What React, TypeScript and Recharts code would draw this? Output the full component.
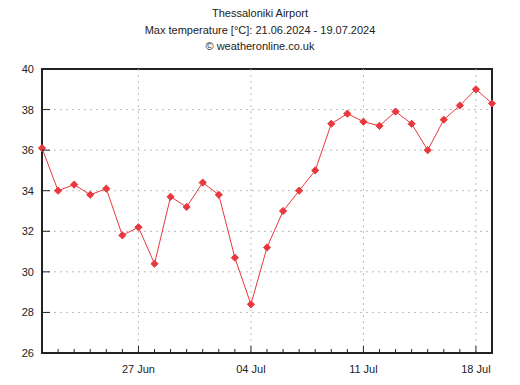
import React from "react";
import { LineChart, Line, XAxis, YAxis, ReferenceLine, ReferenceArea } from "recharts";

const days = [
  "21 Jun", "22 Jun", "23 Jun", "24 Jun", "25 Jun", "26 Jun", "27 Jun", "28 Jun", "29 Jun", "30 Jun",
  "01 Jul", "02 Jul", "03 Jul", "04 Jul", "05 Jul", "06 Jul", "07 Jul", "08 Jul", "09 Jul", "10 Jul",
  "11 Jul", "12 Jul", "13 Jul", "14 Jul", "15 Jul", "16 Jul", "17 Jul", "18 Jul", "19 Jul",
];
const maxTemp = [
  36.1, 34.0, 34.3, 33.8, 34.1, 31.8, 32.2, 30.4, 33.7, 33.2,
  34.4, 33.8, 30.7, 28.4, 31.2, 33.0, 34.0, 35.0, 37.3, 37.8,
  37.4, 37.2, 37.9, 37.3, 36.0, 37.5, 38.2, 39.0, 38.3,
];
const majorLabels = ["27 Jun", "04 Jul", "11 Jul", "18 Jul"];
const yTicks = [26, 28, 30, 32, 34, 36, 38, 40];
const yGrid = [28, 30, 32, 34, 36, 38];
const titleLines = [
  "Thessaloniki Airport",
  "Max temperature [°C]: 21.06.2024 - 19.07.2024",
  "© weatheronline.co.uk",
];

const data = days.map((d, i) => ({ idx: i, day: d, temp: maxTemp[i] }));
const allTicks = days.map((_, i) => i);
const majorTicks = majorLabels.map((l) => days.indexOf(l));
const lastIdx = days.length - 1;
const yMin = yTicks[0];
const yMax = yTicks[yTicks.length - 1];

const FONT = "'Liberation Sans', Arial, sans-serif";
const AXIS = "#222";
const RED = "#e8383d";
const GRID = "#bbb";

const BottomTick = (props: any) => {
  const { x, y, payload } = props;
  const major = majorTicks.includes(payload.value);
  return (
    <g>
      <line x1={x} y1={y} x2={x} y2={y - (major ? 7 : 4)} stroke={AXIS} strokeWidth={1} />
      {major && (
        <text x={x} y={y + 20} textAnchor="middle" fontSize={11} fontFamily={FONT} fill="#222">
          {days[payload.value]}
        </text>
      )}
    </g>
  );
};

const TopTick = (props: any) => {
  const { x, y, payload } = props;
  const major = majorTicks.includes(payload.value);
  return <line x1={x} y1={y} x2={x} y2={y + (major ? 7 : 4)} stroke={AXIS} strokeWidth={1} />;
};

const LeftTick = (props: any) => {
  const { x, y, payload } = props;
  return (
    <g>
      <line x1={x} y1={y} x2={x + 8} y2={y} stroke={AXIS} strokeWidth={1} />
      <text x={x - 8} y={y + 4} textAnchor="end" fontSize={11} fontFamily={FONT} fill="#222">
        {payload.value}
      </text>
    </g>
  );
};

const RightTick = (props: any) => {
  const { x, y } = props;
  return <line x1={x} y1={y} x2={x - 8} y2={y} stroke={AXIS} strokeWidth={1} />;
};

const Diamond = (props: any) => {
  const { cx, cy } = props;
  if (cx == null || cy == null) return null;
  const r = 3.6;
  return (
    <path
      d={`M${cx},${cy - r} L${cx + r},${cy} L${cx},${cy + r} L${cx - r},${cy} Z`}
      fill={RED}
      stroke={RED}
      strokeWidth={1}
      strokeLinejoin="round"
    />
  );
};

export default function App() {
  return (
    <div style={{ position: "absolute", left: 0, top: 0, width: 520, height: 385, background: "#fff" }}>
      <div
        style={{
          position: "absolute",
          left: 0,
          top: 5,
          width: 520,
          textAlign: "center",
          fontFamily: FONT,
          fontSize: 11,
          color: "#222",
          lineHeight: "16.5px",
        }}
      >
        {titleLines.map((t) => (
          <div key={t}>{t}</div>
        ))}
      </div>
      <LineChart
        width={520}
        height={385}
        data={data}
        margin={{ top: 69, right: 0, bottom: 0, left: 0 }}
      >
        {yGrid.map((v) => (
          <ReferenceLine
            key={"h" + v}
            y={v}
            xAxisId="bottom"
            yAxisId="left"
            stroke={GRID}
            strokeDasharray="2 4"
          />
        ))}
        {majorTicks.map((t) => (
          <ReferenceLine
            key={"v" + t}
            x={t}
            xAxisId="bottom"
            yAxisId="left"
            stroke={GRID}
            strokeDasharray="2 4"
          />
        ))}
        <ReferenceArea
          x1={0}
          x2={lastIdx}
          y1={yMin}
          y2={yMax}
          xAxisId="bottom"
          yAxisId="left"
          fill="none"
          fillOpacity={0}
          stroke={AXIS}
          strokeWidth={2}
          ifOverflow="visible"
        />
        <XAxis
          xAxisId="bottom"
          dataKey="idx"
          type="number"
          domain={[0, lastIdx]}
          ticks={allTicks}
          interval={0}
          height={32}
          tickSize={0}
          tickMargin={0}
          tickLine={false}
          tick={<BottomTick />}
          axisLine={{ stroke: AXIS, strokeWidth: 2 }}
        />
        <XAxis
          xAxisId="top"
          orientation="top"
          dataKey="idx"
          type="number"
          domain={[0, lastIdx]}
          ticks={allTicks}
          interval={0}
          height={0}
          tickSize={0}
          tickMargin={0}
          tickLine={false}
          tick={<TopTick />}
          axisLine={false}
        />
        <YAxis
          yAxisId="left"
          type="number"
          domain={[yMin, yMax]}
          ticks={yTicks}
          interval={0}
          width={42}
          tickSize={0}
          tickMargin={0}
          tickLine={false}
          tick={<LeftTick />}
          axisLine={{ stroke: AXIS, strokeWidth: 2 }}
        />
        <YAxis
          yAxisId="right"
          orientation="right"
          type="number"
          domain={[yMin, yMax]}
          ticks={yTicks}
          interval={0}
          width={28}
          tickSize={0}
          tickMargin={0}
          tickLine={false}
          tick={<RightTick />}
          axisLine={{ stroke: AXIS, strokeWidth: 2 }}
        />
        <Line
          xAxisId="bottom"
          yAxisId="left"
          dataKey="temp"
          stroke={RED}
          strokeWidth={1}
          dot={<Diamond />}
          activeDot={false}
          isAnimationActive={false}
        />
      </LineChart>
    </div>
  );
}
